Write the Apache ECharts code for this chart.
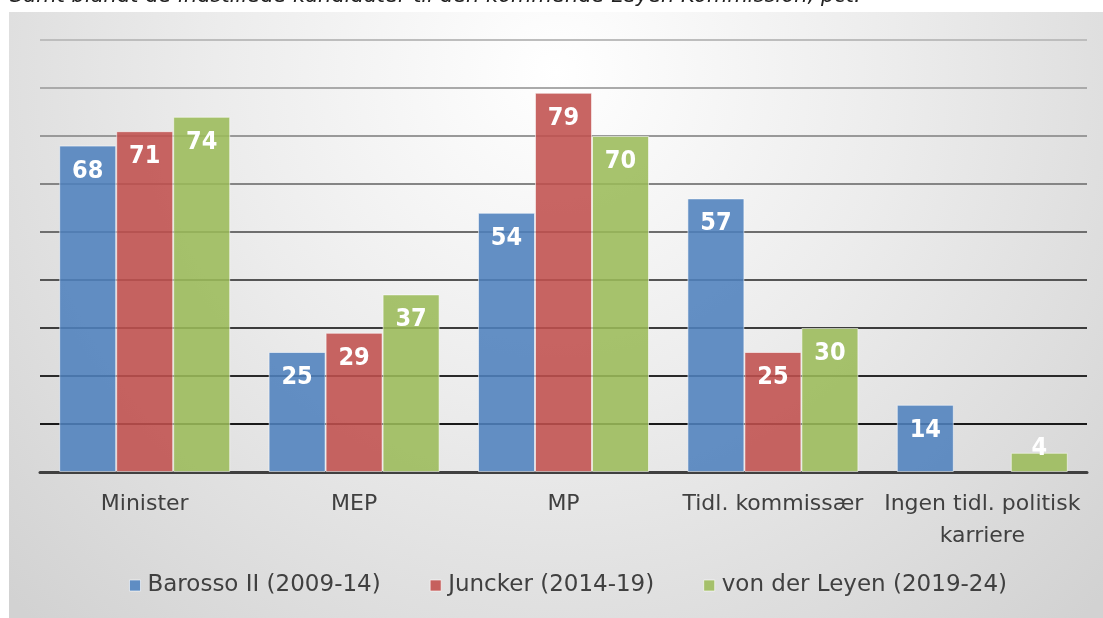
<!DOCTYPE html>
<html>
<head>
<meta charset="utf-8">
<script src="https://cdn.jsdelivr.net/npm/echarts@6/dist/echarts.min.js"></script>
<style>html,body{margin:0;padding:0;background:#fff;}#c{width:1103px;height:618px;}</style>
</head>
<body>
<div id="c"></div>
<script>
const categories = ['Minister', 'MEP', 'MP', 'Tidl. kommissær', 'Ingen tidl. politisk\nkarriere'];
const seriesNames = ['Barosso II (2009-14)', 'Juncker (2014-19)', 'von der Leyen (2019-24)'];
const barroso = [68, 25, 54, 57, 14];
const juncker = [71, 29, 79, 25, null];
const vonderleyen = [74, 37, 70, 30, 4];
const titleText = 'Samt blandt de indstillede kandidater til den kommende Leyen Kommission, pct.';

const colors = ['rgba(79,129,189,0.88)', 'rgba(192,80,77,0.88)', 'rgba(155,187,89,0.88)'];
const legendColors = ['#5f8dc3', '#c6605d', '#a5c06a'];
const FONT = 'DejaVu Sans';
const FONT_C = '"DejaVu Sans Condensed", "DejaVu Sans"';

function mkData(arr) {
  return arr.map(v => {
    if (v === null) return '-';
    if (v < 8) return { value: v, label: { position: 'top', distance: -8 } };
    return v;
  });
}

const labelStyle = {
  show: true, position: 'insideTop', distance: 13,
  color: '#fff', fontSize: 25, fontWeight: 'bold', fontFamily: FONT_C
};

function mkSeries(name, arr, i) {
  return {
    name: name, type: 'bar', data: mkData(arr),
    barWidth: 57, barGap: '0%',
    itemStyle: { color: colors[i], borderColor: 'rgba(255,255,255,0.55)', borderWidth: 1 },
    label: labelStyle
  };
}

const chart = echarts.init(document.getElementById('c'), null, { renderer: 'canvas' });
chart.setOption({
  animation: false,
  backgroundColor: '#ffffff',
  graphic: [
    {
      type: 'rect', z: -10, silent: true,
      shape: { x: 9, y: 12, width: 1094, height: 606 },
      style: {
        fill: {
          type: 'radial', x: 0.5, y: 0.1, r: 1.25,
          colorStops: [{ offset: 0, color: '#ffffff' }, { offset: 0.45, color: '#ececec' }, { offset: 1, color: '#d2d2d2' }]
        }
      }
    },
    {
      type: 'text', left: 10, top: -14, silent: true,
      style: { text: titleText, fontSize: 21, fontStyle: 'italic', fill: '#222', fontFamily: FONT }
    }
  ],
  grid: { left: 40, right: 16, top: 40, bottom: 146, containLabel: false },
  legend: {
    bottom: 16, left: 124,
    itemWidth: 11, itemHeight: 11, itemGap: 49,
    icon: 'rect',
    textStyle: { fontSize: 23, color: '#404040', fontFamily: FONT, padding: [0, 0, 0, 2] },
    data: seriesNames.map((n, i) => ({ name: n, itemStyle: { color: legendColors[i], borderColor: 'rgba(255,255,255,0.6)', borderWidth: 1 } }))
  },
  xAxis: {
    type: 'category', data: categories,
    axisLine: { lineStyle: { color: '#404040', width: 3 } },
    axisTick: { show: false },
    axisLabel: { fontSize: 22, color: '#404040', margin: 16, lineHeight: 32, fontFamily: FONT, interval: 0 }
  },
  yAxis: {
    type: 'value', min: 0, max: 90, interval: 10,
    axisLabel: { show: false }, axisLine: { show: false }, axisTick: { show: false },
    splitLine: { lineStyle: { width: 2, color: ['#404040', '#1a1a1a', '#2a2a2a', '#3c3c3c', '#555555', '#6e6e6e', '#858585', '#999999', '#aaaaaa', '#bdbdbd'] } }
  },
  series: [
    mkSeries(seriesNames[0], barroso, 0),
    mkSeries(seriesNames[1], juncker, 1),
    mkSeries(seriesNames[2], vonderleyen, 2)
  ]
});
</script>
</body>
</html>
